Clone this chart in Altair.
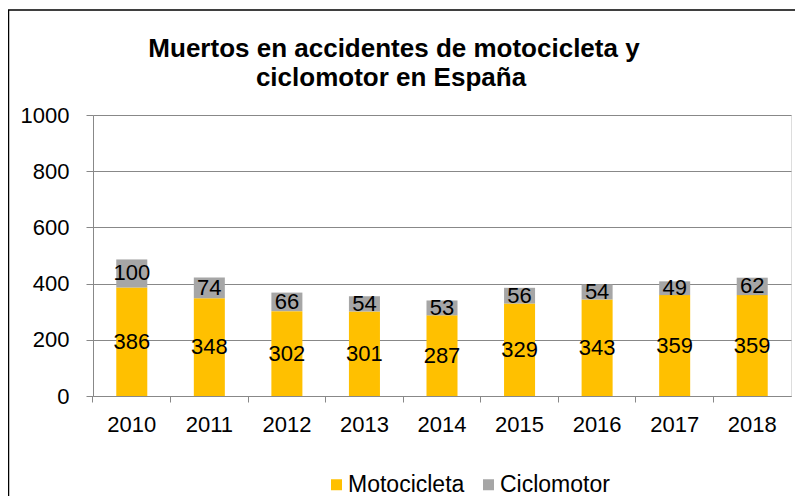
import altair as alt
import pandas as pd

years = ["2010", "2011", "2012", "2013", "2014", "2015", "2016", "2017", "2018"]
motocicleta = [386, 348, 302, 301, 287, 329, 343, 359, 359]
ciclomotor = [100, 74, 66, 54, 53, 56, 54, 49, 62]
series = ["Motocicleta", "Ciclomotor"]
colors = ["#FFC000", "#A6A6A6"]
title_lines = ["Muertos en accidentes de motocicleta y", "ciclomotor en España"]

rows = []
for y, m, c in zip(years, motocicleta, ciclomotor):
    rows.append({"year": y, "serie": series[0], "value": m, "ord": 0})
    rows.append({"year": y, "serie": series[1], "value": c, "ord": 1})
df = pd.DataFrame(rows)

FONT = "Liberation Sans"

base = alt.Chart(df).transform_stack(
    stack="value", as_=["v0", "v1"], groupby=["year"], sort=[alt.SortField("ord", order="ascending")]
).transform_calculate(mid="(datum.v0 + datum.v1) / 2")

xenc = alt.X(
    "year:N",
    title=None,
    scale=alt.Scale(paddingInner=0.6, paddingOuter=0.3),
    axis=alt.Axis(
        labelAngle=0, labelFontSize=22, labelFont=FONT, labelColor="black",
        tickSize=6, tickColor="#888888", domainColor="#888888",
        bandPosition=-0.75, labelPadding=12,
    ),
)

bars = base.mark_bar().encode(
    x=xenc,
    y=alt.Y(
        "v0:Q", title=None,
        scale=alt.Scale(domain=[0, 1000]),
        axis=alt.Axis(
            values=[0, 200, 400, 600, 800, 1000], format="d", labelFontSize=22, labelFont=FONT,
            labelColor="black", tickSize=7, tickColor="#888888", domainColor="#888888",
            gridColor="#888888", labelPadding=17,
        ),
    ),
    y2="v1:Q",
    color=alt.Color(
        "serie:N",
        scale=alt.Scale(domain=series, range=colors),
        sort=series,
        legend=alt.Legend(
            title=None, orient="none", legendX=232, legendY=358, direction="horizontal",
            symbolType="square", symbolSize=121, symbolStrokeWidth=0,
            labelFontSize=23, labelFont=FONT, labelColor="black", labelOffset=0,
            columnPadding=12,
        ),
    ),
)

labels = base.mark_text(fontSize=22, font=FONT, color="black").encode(
    x="year:N",
    y="mid:Q",
    text="value:Q",
)

border = alt.Chart(alt.Data(values=[{"a": 1}])).mark_rect(
    fill=None, stroke="black", strokeWidth=1.5
).encode(
    x=alt.value(-84.5), x2=alt.value(760), y=alt.value(-105), y2=alt.value(420)
)

title1 = alt.Chart(alt.Data(values=[{"t": title_lines[0]}])).mark_text(
    fontSize=26, fontWeight="bold", font=FONT, color="black", baseline="middle", align="center"
).encode(x=alt.value(301), y=alt.value(-66), text="t:N")

title2 = alt.Chart(alt.Data(values=[{"t": title_lines[1]}])).mark_text(
    fontSize=26, fontWeight="bold", font=FONT, color="black", baseline="middle", align="center"
).encode(x=alt.value(298), y=alt.value(-37), text="t:N")

chart = alt.layer(bars, labels, border, title1, title2).properties(
    width=698,
    height=281,
    padding={"left": 85, "top": 107, "right": 4, "bottom": 100},
    autosize=alt.AutoSizeParams(type="none"),
).configure_view(stroke="#888888").configure(background="white")

chart.save("out.html", embed_options={"renderer": "svg", "actions": False})
